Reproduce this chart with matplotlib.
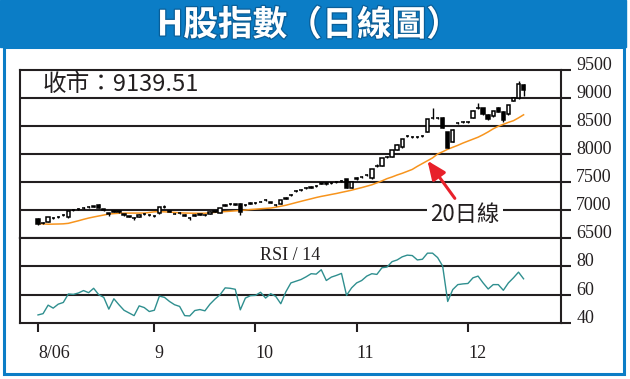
import matplotlib
matplotlib.use("Agg")
import matplotlib.pyplot as plt
import matplotlib.patheffects as pe
from matplotlib.patches import Rectangle

plt.rcParams["font.family"] = ["Noto Sans CJK TC", "DejaVu Sans"]

# daily bars, day 0 = first trading day of Aug 2006
opens = [
    6840, 6765, 6790, 6865, 6870, 6905, 6870, 6995, 7020, 7035,
    7045, 7060, 7090, 7010, 6940, 6970, 6975, 6920, 6890, 6860,
    6880, 6920, 6915, 6895, 6940, 7050, 6980, 6935, 6945, 6905,
    6860, 6900, 6915, 6915, 6930, 6970, 6955, 7080, 7100, 7095,
    7110, 7085, 7115, 7120, 7145, 7175, 7135, 7095, 7107, 7205,
    7262, 7340, 7355, 7385, 7400, 7425, 7470, 7470, 7478, 7500,
    7515, 7550, 7390, 7550, 7590, 7620, 7565, 7790, 7785, 7945,
    7950, 8070, 8120, 8320, 8310, 8305, 8315, 8390, 8650, 8645,
    8640, 8390, 8220, 8545, 8575, 8575, 8650, 8815, 8815, 8700,
    8670, 8830, 8755, 8710, 8950, 9005, 9230,
]
highs = [
    6850, 6790, 6880, 6880, 6895, 6925, 6985, 7015, 7030, 7055,
    7065, 7080, 7100, 7025, 6950, 6995, 6990, 6930, 6900, 6870,
    6920, 6945, 6930, 6910, 7055, 7090, 6990, 6950, 6965, 6920,
    6875, 6925, 6935, 6930, 6975, 6990, 7040, 7105, 7120, 7115,
    7125, 7105, 7135, 7140, 7165, 7195, 7150, 7110, 7180, 7225,
    7280, 7360, 7375, 7405, 7420, 7445, 7490, 7495, 7495, 7520,
    7535, 7560, 7515, 7590, 7610, 7640, 7735, 7830, 7930, 7965,
    8080, 8170, 8270, 8345, 8330, 8320, 8335, 8630, 8815, 8660,
    8655, 8400, 8440, 8565, 8595, 8595, 8780, 8905, 8830, 8715,
    8770, 8845, 8765, 8880, 9010, 9300, 9245,
]
lows = [
    6730, 6750, 6780, 6840, 6860, 6890, 6860, 6985, 6995, 7025,
    7035, 7050, 7030, 6990, 6900, 6960, 6950, 6895, 6870, 6830,
    6870, 6910, 6900, 6880, 6935, 7040, 6960, 6920, 6935, 6890,
    6830, 6890, 6905, 6900, 6920, 6960, 6950, 7070, 7090, 7085,
    6910, 7075, 7105, 7105, 7135, 7165, 7120, 7080, 7100, 7195,
    7250, 7330, 7345, 7375, 7390, 7415, 7460, 7455, 7465, 7490,
    7505, 7390, 7385, 7540, 7580, 7610, 7560, 7770, 7780, 7935,
    7945, 8065, 8115, 8310, 8280, 8290, 8300, 8385, 8630, 8625,
    8460, 8100, 8210, 8530, 8560, 8560, 8645, 8805, 8700, 8600,
    8660, 8745, 8580, 8700, 8940, 8990, 9040,
]
closes = [
    6750, 6775, 6870, 6850, 6880, 6910, 6975, 7000, 7010, 7040,
    7050, 7065, 7040, 7000, 6920, 6980, 6960, 6910, 6880, 6850,
    6910, 6930, 6910, 6890, 7045, 7060, 6970, 6930, 6950, 6900,
    6850, 6910, 6920, 6910, 6965, 6975, 7030, 7090, 7105, 7100,
    6960, 7090, 7120, 7125, 7150, 7180, 7130, 7090, 7170, 7210,
    7268, 7345, 7360, 7390, 7405, 7430, 7475, 7475, 7480, 7505,
    7520, 7400, 7505, 7580, 7595, 7625, 7725, 7780, 7920, 7950,
    8070, 8160, 8260, 8330, 8300, 8310, 8320, 8620, 8640, 8640,
    8470, 8115, 8430, 8550, 8580, 8580, 8770, 8820, 8710, 8630,
    8760, 8755, 8600, 8870, 9000, 9245, 9139.51,
]
ma20 = [
    6760, 6752, 6746, 6748, 6750, 6753, 6762, 6785, 6808, 6833,
    6856, 6875, 6893, 6910, 6928, 6936, 6942, 6944, 6945, 6945,
    6945, 6945, 6955, 6968, 6970, 6967, 6962, 6956, 6950, 6946,
    6944, 6942, 6942, 6942, 6950, 6958, 6966, 6972, 6978, 6985,
    6992, 6999, 7008, 7015, 7022, 7029, 7035, 7050, 7067, 7085,
    7108, 7132, 7155, 7178, 7200, 7223, 7243, 7260, 7278, 7295,
    7315, 7334, 7354, 7378, 7400, 7425, 7450, 7485, 7520, 7560,
    7590, 7625, 7655, 7690, 7725, 7780, 7830, 7880, 7930, 8000,
    8040, 8085, 8120, 8155, 8195, 8230, 8265, 8300, 8345, 8395,
    8450, 8495, 8530, 8565, 8595, 8645, 8700,
]
rsi14 = [
    45.7, 46.6, 52.6, 50.5, 53.3, 54.5, 60.5, 60.2, 61.2, 62.9,
    61.4, 64.5, 60.0, 58.1, 49.8, 57.1, 52.9, 49.0, 47.1, 45.2,
    52.1, 50.9, 48.1, 49.0, 59.0, 58.1, 55.2, 52.9, 51.7, 45.2,
    45.0, 48.8, 49.5, 48.6, 53.3, 56.9, 60.0, 64.8, 64.5, 63.8,
    49.3, 57.6, 59.3, 59.5, 61.7, 57.6, 60.7, 58.8, 53.6, 62.0,
    68.3, 69.5, 70.7, 72.6, 74.8, 74.5, 77.6, 70.0, 72.4, 73.6,
    75.0, 59.5, 64.8, 68.3, 70.0, 73.1, 74.8, 74.3, 79.0, 79.5,
    83.3, 84.5, 86.7, 87.9, 87.6, 84.5, 85.0, 89.3, 89.3, 86.2,
    80.2, 55.2, 63.6, 67.1, 67.6, 67.9, 71.9, 73.1, 68.3, 64.0,
    67.1, 67.1, 63.1, 68.3, 71.9, 75.9, 71.2,
]
month_days = [0, 23, 43, 63, 85]
month_labels = ["8/06", "9", "10", "11", "12"]
price_ticks = [6500, 7000, 7500, 8000, 8500, 9000, 9500]
rsi_ticks = [40, 60, 80]
last_close = closes[-1]
ma_arrow_day = 77

INK = "#231f20"
BLUE = "#0b7dc6"
W, H = 630, 379


def fx(px):
    return px / W


def fy(py):
    return 1 - py / H


fig = plt.figure(figsize=(W / 100, H / 100), dpi=100)

# banner + frame
fig.patches.append(Rectangle((0, fy(47)), fx(626), 47 / H, transform=fig.transFigure,
                             color=BLUE, zorder=0))
fig.patches.append(Rectangle((fx(3.5), fy(374)), fx(620), fy(47) - fy(374),
                             transform=fig.transFigure, fill=False, ec=BLUE, lw=2.2))
fig.text(fx(309), fy(25), "H股指數（日線圖）", color="white", fontsize=25,
         fontweight="heavy", ha="center", va="center",
         path_effects=[pe.withStroke(linewidth=1.8, foreground="#0a5e98")])

ax = fig.add_axes([fx(20), fy(238), fx(541), fy(70) - fy(238)])
ax_r = fig.add_axes([fx(20), fy(323), fx(541), fy(238) - fy(323)], sharex=ax)

days = list(range(len(closes)))

# price panel
for v in price_ticks[1:-1]:
    ax.axhline(v, color=INK, lw=1.5, zorder=1)
ax.plot(days, ma20, color="#f7941d", lw=1.1, zorder=2)
ax.vlines(days, lows, highs, color="black", lw=1.0, zorder=3)
bottoms = [min(o, c) for o, c in zip(opens, closes)]
heights = [abs(c - o) for o, c in zip(opens, closes)]
faces = ["white" if c >= o else "black" for o, c in zip(opens, closes)]
ax.bar(days, heights, bottom=bottoms, width=0.66, color=faces, edgecolor="black",
       lw=1.1, zorder=4)

ax.set_xlim(-3.56, 103.4)
ax.set_ylim(price_ticks[0], price_ticks[-1])
ax.yaxis.tick_right()
ax.set_yticks(price_ticks, [str(v) for v in price_ticks], va="baseline",
              fontfamily="Liberation Serif", fontsize=13)
ax.tick_params(axis="y", direction="out", length=7.5, width=1.5, color=INK, pad=3.5,
               labelcolor=INK)
ax.tick_params(axis="x", bottom=False, labelbottom=False)
for s in ax.spines.values():
    s.set_linewidth(1.5)
    s.set_color(INK)

ax.text(0.0425, 0.911, f"收市：{last_close:.2f}", transform=ax.transAxes, ha="left",
        va="center", fontsize=17, color=INK)
ax.text(0.8226, 0.137, "20日線", transform=ax.transAxes, ha="center", va="center",
        fontsize=16, color=INK, zorder=5,
        bbox=dict(fc="white", ec="none", pad=2.5))
ax.annotate("", xy=(ma_arrow_day, ma20[ma_arrow_day]), xytext=(19.7, -27.1),
            textcoords="offset points", zorder=6,
            arrowprops=dict(arrowstyle="-|>,head_length=0.7,head_width=0.3",
                            mutation_scale=16, color="#e8202a", lw=2.2,
                            shrinkA=0, shrinkB=0))

# RSI panel
for v in rsi_ticks[1:]:
    ax_r.axhline(v, color=INK, lw=1.5, zorder=1)
ax_r.plot(days, rsi14, color="#2f8f8f", lw=1.0, zorder=2)
ax_r.set_ylim(40, 100)
ax_r.yaxis.tick_right()
ax_r.set_yticks(rsi_ticks, [str(v) for v in rsi_ticks], va="baseline",
                fontfamily="Liberation Serif", fontsize=13)
ax_r.tick_params(axis="y", direction="out", length=7.5, width=1.5, color=INK, pad=3.5,
                 labelcolor=INK)
ax_r.set_xticks(month_days, month_labels, ha="left", fontfamily="Liberation Serif",
                fontsize=13)
ax_r.tick_params(axis="x", direction="out", length=6.5, width=1.5, color=INK, pad=9,
                 labelcolor=INK)
for s in ax_r.spines.values():
    s.set_linewidth(1.5)
    s.set_color(INK)
ax_r.text(0.5, 0.8, "RSI / 14", transform=ax_r.transAxes, ha="center", va="center",
          fontfamily="Liberation Serif", fontsize=13, color=INK)

fig.savefig("out.png", dpi=100)
